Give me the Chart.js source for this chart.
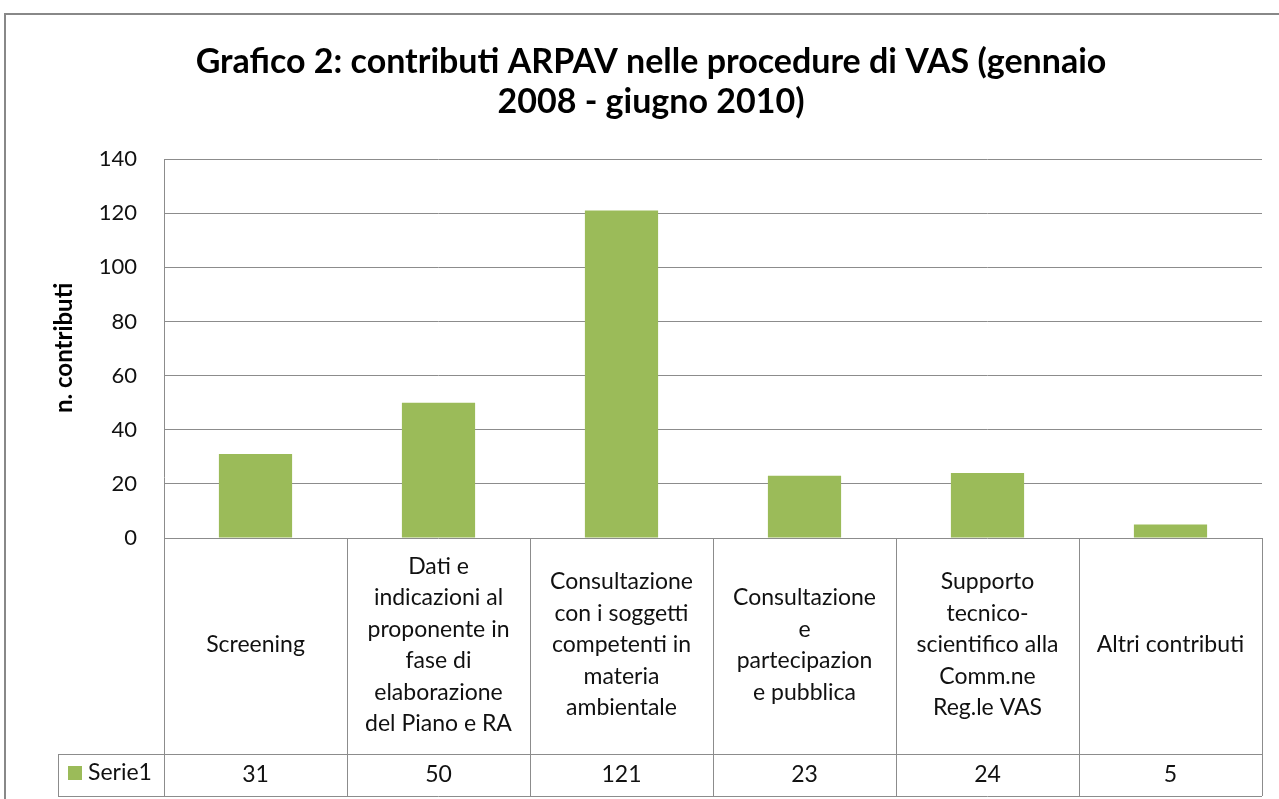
<!DOCTYPE html>
<html>
<head>
<meta charset="utf-8">
<script src="https://cdn.jsdelivr.net/npm/chart.js@4"></script>
<style>
  body { margin: 0; background: #fff; }
  canvas { display: block; }
</style>
</head>
<body>
<canvas id="vasChart" width="1279" height="799"></canvas>
<script>
// data
const categories = [
  ["Screening"],
  ["Dati e", "indicazioni al", "proponente in", "fase di", "elaborazione", "del Piano e RA"],
  ["Consultazione", "con i soggetti", "competenti in", "materia", "ambientale"],
  ["Consultazione", "e", "partecipazion", "e pubblica"],
  ["Supporto", "tecnico-", "scientifico alla", "Comm.ne", "Reg.le VAS"],
  ["Altri contributi"]
];
const serie1 = [31, 50, 121, 23, 24, 5];
const seriesName = "Serie1";
const titleLines = ["Grafico 2: contributi ARPAV nelle procedure di VAS (gennaio", "2008 - giugno 2010)"];
const yTitle = "n. contributi";

const FONT = "Lato, 'Open Sans', sans-serif";
const barColor = "#9BBB59";
const lineColor = "#8c8c8c";

// table below the plot + title, frame
const tablePlugin = {
  id: "tablePlugin",
  beforeDraw(chart) {
    const c = chart.ctx;
    c.save();
    c.fillStyle = "#fff";
    c.fillRect(0, 0, chart.width, chart.height);
    c.strokeStyle = "#888";
    c.lineWidth = 2;
    c.strokeRect(5, 14, 1290, 800);

    c.fillStyle = "#000";
    c.font = "bold 34px " + FONT;
    c.textAlign = "center";
    c.textBaseline = "middle";
    c.fillText(titleLines[0], 651, 62);
    c.fillText(titleLines[1], 651, 102);

    // y axis title
    c.save();
    c.translate(64, 348);
    c.rotate(-Math.PI / 2);
    c.font = "bold 24px " + FONT;
    c.fillText(yTitle, 0, 0);
    c.restore();
    c.restore();
  },
  afterDraw(chart) {
    const c = chart.ctx;
    const x = chart.scales.x;
    const area = chart.chartArea;
    const rowTop = area.bottom;
    const rowMid = 754;
    const rowBot = 796;
    const n = categories.length;
    const step = (area.right - area.left) / n;

    c.save();
    c.strokeStyle = lineColor;
    c.lineWidth = 1;
    c.beginPath();
    // verticals
    for (let i = 0; i <= n; i++) {
      const px = Math.round(area.left + i * step) + 0.5;
      c.moveTo(px, i === 0 ? area.top : rowTop);
      c.lineTo(px, rowBot);
    }
    // horizontals
    c.moveTo(area.left, rowBot + 0.5);
    c.lineTo(area.right, rowBot + 0.5);
    c.moveTo(58, rowMid + 0.5);
    c.lineTo(area.right, rowMid + 0.5);
    c.moveTo(58, rowBot + 0.5);
    c.lineTo(area.left, rowBot + 0.5);
    c.moveTo(58.5, rowMid);
    c.lineTo(58.5, rowBot);
    c.stroke();

    c.fillStyle = "#111";
    c.font = "23px " + FONT;
    c.textAlign = "center";
    c.textBaseline = "middle";
    const lh = 31.5;
    categories.forEach((lines, i) => {
      const cx = x.getPixelForValue(i);
      const top = 645 - (lines.length - 1) * lh / 2;
      lines.forEach((t, j) => c.fillText(t, cx, top + j * lh));
      c.fillText(String(serie1[i]), cx, 775);
    });

    // legend key
    c.fillStyle = barColor;
    c.fillRect(68, 766, 14, 14);
    c.fillStyle = "#111";
    c.textAlign = "left";
    c.fillText(seriesName, 88, 773);
    c.restore();
  }
};

const ctx = document.getElementById("vasChart").getContext("2d");
const vasChart = new Chart(ctx, {
  type: "bar",
  data: {
    labels: categories,
    datasets: [{
      label: seriesName,
      data: serie1,
      backgroundColor: barColor,
      borderWidth: 0,
      categoryPercentage: 1,
      barPercentage: 0.4
    }]
  },
  options: {
    responsive: false,
    animation: false,
    layout: { padding: { left: 0, top: 159, right: 17, bottom: 261 } },
    plugins: {
      legend: { display: false },
      tooltip: { enabled: false }
    },
    scales: {
      x: { display: false },
      y: {
        min: 0,
        max: 140,
        ticks: {
          stepSize: 20,
          padding: 27,
          color: "#111",
          font: { family: FONT, size: 22 }
        },
        grid: { color: lineColor, drawTicks: false },
        border: { display: false },
        afterFit(scale) { scale.width = 164; }
      }
    }
  },
  plugins: [tablePlugin]
});
</script>
</body>
</html>
